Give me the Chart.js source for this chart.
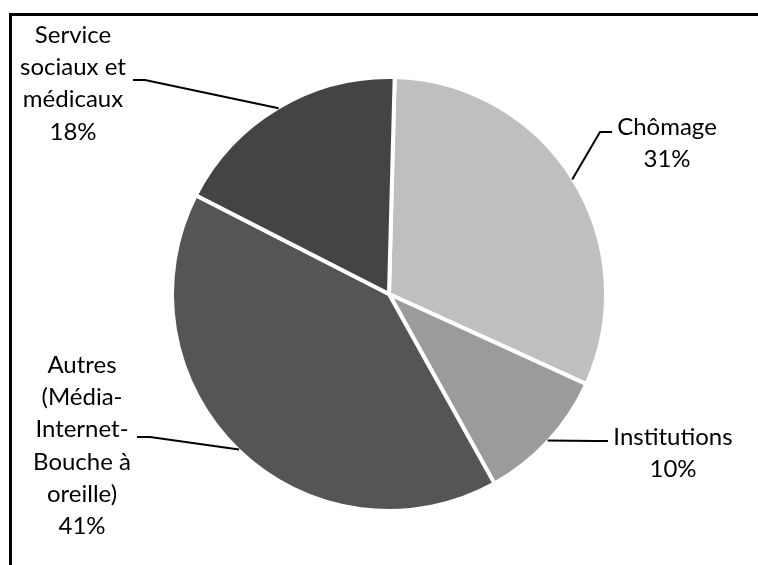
<!DOCTYPE html>
<html>
<head>
<meta charset="utf-8">
<script src="https://cdn.jsdelivr.net/npm/chart.js@4/dist/chart.umd.min.js"></script>
<style>
html,body{margin:0;padding:0;background:#fff;}
#wrap{position:relative;width:758px;height:565px;}
</style>
</head>
<body>
<div id="wrap"><canvas id="c" width="758" height="565"></canvas></div>
<script>
const categories = ["Chômage", "Institutions", "Autres (Média-Internet-Bouche à oreille)", "Service sociaux et médicaux"];
const values = [31.4, 10.1, 40.6, 17.9];
const colors = ["#bfbfbf", "#9b9b9b", "#555555", "#444444"];
const labelLines = [
  ["Chômage"],
  ["Institutions"],
  ["Autres", "(Média-", "Internet-", "Bouche à", "oreille)"],
  ["Service", "sociaux et", "médicaux"]
];
// label layout: center x, first line middle y, leader start point, elbow point
const labelLayout = [
  {x: 667, y: 127, lx: 612, ly: 132, ex: 600, ey: 132},
  {x: 673, y: 437, lx: 608, ly: 441, ex: 596, ey: 441},
  {x: 82,  y: 365, lx: 137, ly: 437, ex: 150, ey: 437},
  {x: 73,  y: 35,  lx: 133, ly: 80,  ex: 145, ey: 80}
];

const total = values.reduce((a, b) => a + b, 0);

const labelPlugin = {
  id: 'pieLabels',
  afterDraw(chart) {
    const ctx = chart.ctx;
    ctx.save();
    ctx.strokeStyle = '#000';
    ctx.lineWidth = 3;
    ctx.beginPath();
    ctx.moveTo(10.5, 565);
    ctx.lineTo(10.5, 14.5);
    ctx.lineTo(758, 14.5);
    ctx.stroke();
    ctx.restore();

    const meta = chart.getDatasetMeta(0);
    ctx.save();
    ctx.font = '24px Lato, "Open Sans", sans-serif';
    ctx.fillStyle = '#000';
    ctx.textAlign = 'center';
    ctx.textBaseline = 'middle';
    meta.data.forEach((arc, i) => {
      const lay = labelLayout[i];
      const lines = labelLines[i].concat([Math.round(values[i] / total * 100) + '%']);
      lines.forEach((t, k) => ctx.fillText(t, lay.x, lay.y + k * 32.3));
      const mid = (arc.startAngle + arc.endAngle) / 2;
      const r = arc.outerRadius - 1;
      const ax = arc.x + Math.cos(mid) * r;
      const ay = arc.y + Math.sin(mid) * r;
      ctx.strokeStyle = '#000';
      ctx.lineWidth = 2;
      ctx.beginPath();
      ctx.moveTo(lay.lx, lay.ly);
      ctx.lineTo(lay.ex, lay.ey);
      ctx.lineTo(ax, ay);
      ctx.stroke();
    });
    ctx.restore();
  }
};

new Chart(document.getElementById('c'), {
  type: 'pie',
  data: {
    labels: categories,
    datasets: [{
      data: values,
      backgroundColor: colors,
      borderColor: '#ffffff',
      borderWidth: 4
    }]
  },
  options: {
    responsive: false,
    animation: false,
    rotation: 1.5,
    radius: 217,
    layout: {padding: {left: 173, right: 153, top: 78, bottom: 55}},
    plugins: {legend: {display: false}, tooltip: {enabled: false}}
  },
  plugins: [labelPlugin]
});
</script>
</body>
</html>
